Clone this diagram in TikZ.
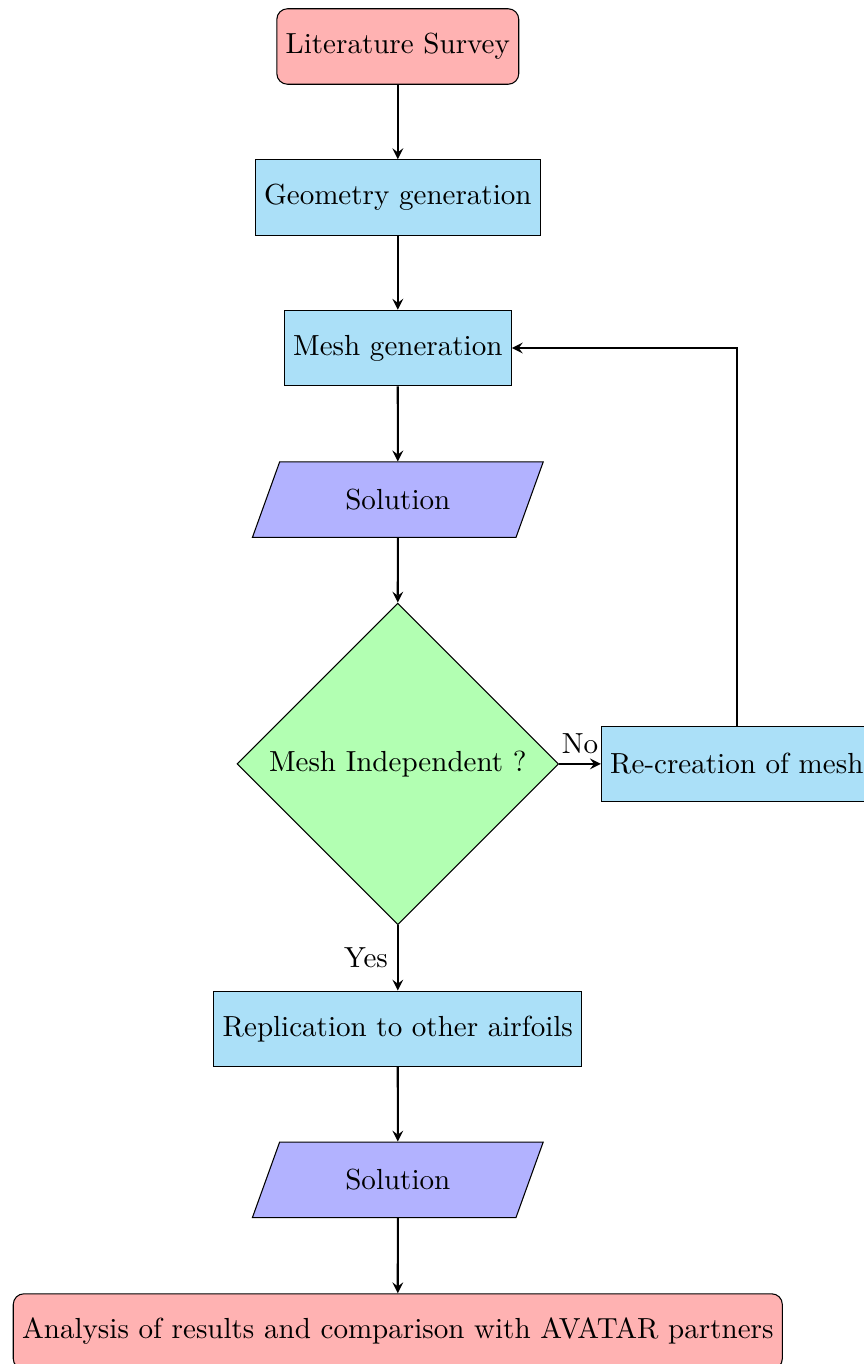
\documentclass[tikz,border=0pt]{standalone}
\usetikzlibrary{shapes.geometric,arrows}
\definecolor{procblue}{RGB}{171,224,248}
\begin{document}
\begin{tikzpicture}[
  font=\fontsize{10.95}{13.6}\selectfont,
  startstop/.style={rectangle, rounded corners, minimum width=3cm, minimum height=1cm, text centered, draw=black, fill=red!30},
  process/.style={rectangle, minimum width=3cm, minimum height=1cm, text centered, draw=black, fill=procblue},
  io/.style={trapezium, trapezium left angle=70, trapezium right angle=110, trapezium stretches=true, minimum width=3.87cm, minimum height=1cm, text centered, draw=black, fill=blue!30},
  decision/.style={diamond, minimum width=4.26cm, minimum height=4.26cm, inner sep=0pt, text centered, draw=black, fill=green!30},
  arrow/.style={thick,-stealth}
]
\useasboundingbox (0,0) rectangle (11.44,-18.07);
\node[startstop] (lit) at (5.27,-0.616) {Literature Survey};
\node[process] (geo) at (5.27,-2.616) {Geometry generation};
\node[process] (mesh) at (5.27,-4.61) {Mesh generation};
\node[io] (sol1) at (5.27,-6.62) {Solution};
\node[decision] (dec) at (5.27,-10.12) {Mesh Independent ?};
\node[process, anchor=west] (rec) at (7.96,-10.12) {Re-creation of mesh};
\node[process] (rep) at (5.27,-13.63) {Replication to other airfoils};
\node[io] (sol2) at (5.27,-15.63) {Solution};
\node[startstop] (ana) at (5.27,-17.64) {Analysis of results and comparison with AVATAR partners};
\draw[arrow] (lit) -- (geo);
\draw[arrow] (geo) -- (mesh);
\draw[arrow] (mesh) -- (sol1);
\draw[arrow] (sol1) -- (dec);
\draw[arrow] (dec) -- node[above] {No} (rec);
\draw[arrow] (dec) -- node[left] {Yes} (rep);
\draw[arrow] (rec.north) |- (mesh.east);
\draw[arrow] (rep) -- (sol2);
\draw[arrow] (sol2) -- (ana);
\end{tikzpicture}
\end{document}
